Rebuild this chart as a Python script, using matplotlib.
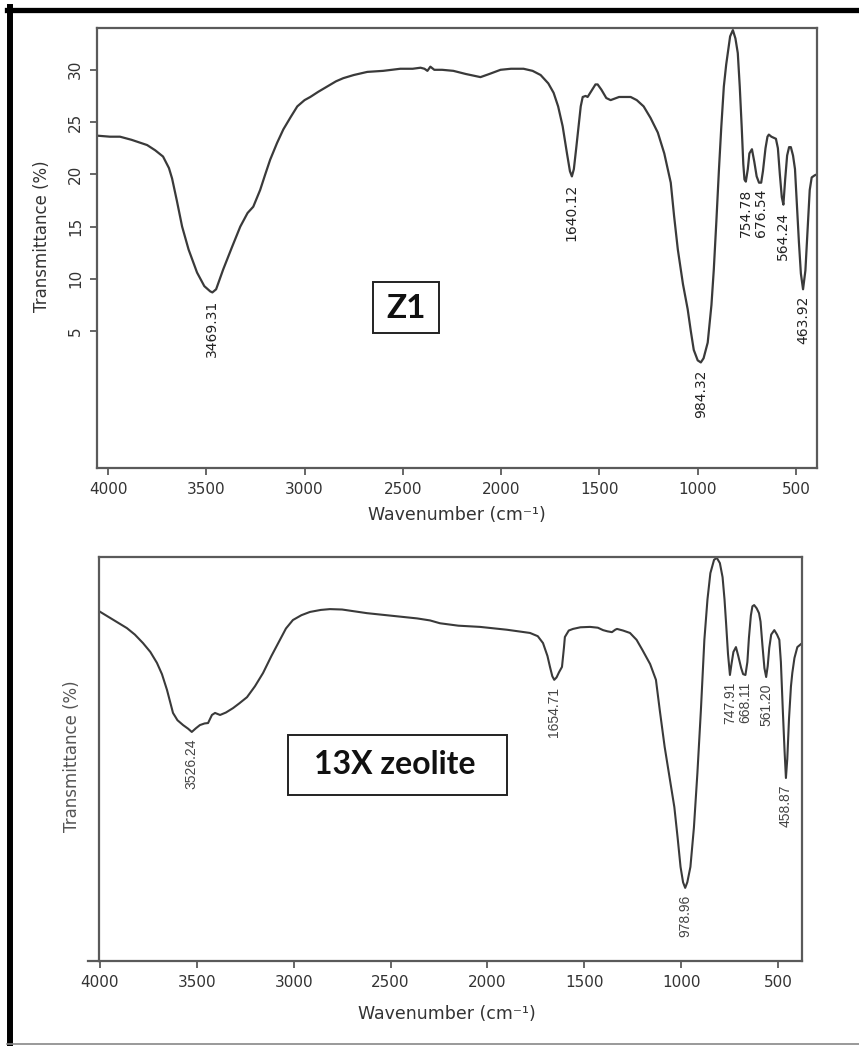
import matplotlib
matplotlib.use("Agg")
import matplotlib.pyplot as plt
import numpy as np
from matplotlib.patches import Rectangle
from matplotlib.lines import Line2D

# ---- data ----
z1_wn = [4056, 3990, 3939, 3880, 3801, 3760, 3720, 3690, 3674, 3650, 3623, 3590, 3547, 3510,
         3480, 3469, 3450, 3414, 3370, 3327, 3290, 3261, 3226, 3200, 3175, 3140, 3108, 3070,
         3037, 3000, 2971, 2930, 2885, 2840, 2803, 2750, 2681, 2600, 2513, 2450, 2410, 2390,
         2375, 2360, 2340, 2300, 2243, 2180, 2105, 2060, 2003, 1950, 1886, 1840, 1799, 1760,
         1733, 1710, 1687, 1665, 1650, 1640, 1630, 1618, 1606, 1595, 1585, 1570, 1560, 1540,
         1520, 1509, 1490, 1465, 1443, 1400, 1341, 1310, 1275, 1240, 1203, 1170, 1137, 1120,
         1101, 1075, 1051, 1035, 1020, 1000, 984, 970, 949, 930, 918, 905, 892, 880, 867, 855,
         847, 835, 821, 808, 796, 786, 776, 768, 762, 755, 745, 737, 724, 712, 700, 688, 677,
         668, 655, 645, 638, 625, 602, 592, 582, 572, 564, 555, 545, 535, 526, 515, 505, 495,
         485, 475, 464, 452, 440, 430, 420, 405, 393]
z1_t = [23.7, 23.6, 23.6, 23.3, 22.8, 22.3, 21.7, 20.6, 19.6, 17.5, 15.0, 12.8, 10.6, 9.3,
        8.8, 8.7, 9.0, 10.9, 13.0, 15.0, 16.3, 16.9, 18.5, 20.0, 21.4, 23.0, 24.3, 25.5,
        26.5, 27.1, 27.4, 27.9, 28.4, 28.9, 29.2, 29.5, 29.8, 29.9, 30.1, 30.1, 30.2, 30.1,
        29.9, 30.3, 30.0, 30.0, 29.9, 29.6, 29.3, 29.6, 30.0, 30.1, 30.1, 29.9, 29.5, 28.7,
        27.8, 26.5, 24.6, 22.0, 20.3, 19.8, 20.5, 22.5, 24.6, 26.5, 27.4, 27.5, 27.4, 28.0,
        28.6, 28.6, 28.1, 27.3, 27.1, 27.4, 27.4, 27.1, 26.5, 25.4, 24.0, 22.0, 19.2, 16.0,
        12.8, 9.5, 7.1, 5.0, 3.2, 2.2, 2.0, 2.4, 3.9, 7.5, 10.9, 15.5, 20.4, 24.5, 28.4, 30.5,
        31.6, 33.2, 33.8, 33.0, 31.6, 28.4, 24.5, 21.0, 19.5, 19.3, 20.5, 22.0, 22.4, 21.2,
        19.8, 19.2, 19.2, 20.3, 22.5, 23.6, 23.8, 23.6, 23.4, 22.5, 20.0, 17.8, 17.1, 19.5,
        21.8, 22.6, 22.6, 21.8, 20.5, 17.0, 13.5, 10.5, 9.0, 10.8, 15.0, 18.5, 19.7, 19.9,
        20.0]
z1_peaks = [3469.31, 1640.12, 984.32, 754.78, 676.54, 564.24, 463.92]

x13_wn = [4005, 3930, 3861, 3820, 3778, 3740, 3706, 3680, 3654, 3623, 3600, 3571, 3545,
          3526, 3505, 3484, 3460, 3442, 3422, 3406, 3380, 3350, 3313, 3280, 3241, 3200,
          3158, 3115, 3071, 3040, 3004, 2960, 2916, 2860, 2813, 2750, 2622, 2500, 2363,
          2296, 2245, 2150, 2038, 1900, 1780, 1740, 1713, 1690, 1677, 1665, 1655, 1643,
          1630, 1615, 1605, 1600, 1580, 1558, 1520, 1470, 1430, 1403, 1380, 1357, 1340,
          1331, 1300, 1264, 1230, 1200, 1160, 1130, 1110, 1085, 1058, 1035, 1018, 1003,
          990, 979, 968, 952, 934, 916, 898, 880, 864, 849, 830, 816, 800, 786, 776, 768,
          758, 748, 740, 730, 717, 705, 690, 680, 668, 658, 650, 640, 632, 623, 610, 598,
          590, 580, 570, 561, 553, 545, 535, 519, 505, 493, 485, 475, 466, 459, 452, 443,
          433, 426, 415, 400, 380]
x13_t = [86.6, 84.4, 82.4, 80.8, 78.7, 76.5, 73.8, 71.0, 67.1, 61.4, 59.6, 58.4, 57.5,
         56.7, 57.6, 58.4, 58.8, 58.9, 60.9, 61.4, 60.9, 61.5, 62.6, 63.8, 65.3, 68.0,
         71.3, 75.5, 79.5, 82.3, 84.4, 85.6, 86.4, 86.9, 87.1, 87.0, 86.1, 85.5, 84.8,
         84.3, 83.6, 83.0, 82.7, 82.0, 81.2, 80.4, 78.7, 75.5, 72.8, 70.5, 69.6, 70.2,
         71.5, 72.8, 77.5, 80.2, 81.8, 82.2, 82.6, 82.7, 82.5, 81.9, 81.6, 81.4, 82.0,
         82.2, 81.8, 81.2, 79.5, 77.0, 73.5, 69.6, 62.0, 53.0, 45.0, 38.1, 30.5, 23.3,
         19.5, 18.1, 19.5, 23.3, 33.0, 46.5, 62.0, 79.5, 89.5, 96.0, 99.3, 99.8, 98.5,
         95.0, 89.5, 83.7, 76.0, 70.8, 73.5, 76.5, 77.7, 75.5, 72.5, 71.0, 70.8, 74.0,
         80.0, 85.5, 87.8, 88.1, 87.3, 86.1, 84.0, 78.0, 72.5, 70.3, 73.0, 77.5, 80.8,
         81.9, 80.8, 79.5, 74.0, 62.0, 52.0, 45.3, 50.0, 60.0, 68.0, 71.3, 75.0, 77.7,
         78.5]
x13_peaks = [3526.24, 1654.71, 978.96, 747.91, 668.11, 561.20, 458.87]

xticks = [4000, 3500, 3000, 2500, 2000, 1500, 1000, 500]
z1_yticks = [5, 10, 15, 20, 25, 30]

W, H = 859, 1046
def fx(px):
    return px / W
def fy(py):
    return 1 - py / H

fig = plt.figure(figsize=(W / 100, H / 100), dpi=100)
spine_c = "#5a5a5a"
line_c = "#3a3a3a"

# ---------------- top panel : Z1 ----------------
ax1 = fig.add_axes([fx(97), fy(468), fx(817) - fx(97), fy(28) - fy(468)])
ax1.plot(z1_wn, z1_t, color=line_c, lw=1.6)
ax1.set_xlim(4056, 393)
ax1.set_ylim(-8.1, 34.0)
ax1.set_xticks(xticks)
ax1.set_yticks(z1_yticks)
ax1.tick_params(axis="both", direction="out", length=5, width=1.3, color=spine_c,
                labelsize=11, labelcolor="#333333", pad=5)
ax1.tick_params(axis="y", labelrotation=90)
for lab in ax1.get_yticklabels():
    lab.set_va("center")
for s in ax1.spines.values():
    s.set_color(spine_c)
    s.set_linewidth(1.6)

for pk in z1_peaks:
    ymin = np.interp(pk, z1_wn[::-1], z1_t[::-1])
    ax1.annotate("%.2f" % pk, xy=(pk, ymin), xytext=(0, -5), textcoords="offset points",
                 rotation=90, ha="center", va="top", fontsize=10, color="#222222")

fig.text(fx(42), fy(236), "Transmittance (%)", rotation=90, ha="center", va="center",
         fontsize=12, color="#333333")
fig.text(fx(457), fy(515), "Wavenumber (cm\u207b\u00b9)", ha="center", va="center",
         fontsize=12.5, color="#333333")

fig.add_artist(Rectangle((fx(373), fy(333)), fx(439) - fx(373), fy(282) - fy(333),
                         transform=fig.transFigure, fill=False, ec="#222222", lw=1.4))
fig.text(fx(406), fy(308), "Z1", ha="center", va="center", fontsize=24,
         fontweight="bold", family=["Lato", "DejaVu Sans"], color="#111111")

# ---------------- bottom panel : 13X zeolite ----------------
ax2 = fig.add_axes([fx(99), fy(961), fx(802) - fx(99), fy(557) - fy(961)])
ax2.plot(x13_wn, x13_t, color=line_c, lw=1.5)
ax2.set_xlim(4005, 376)
ax2.set_ylim(0, 100)
ax2.set_xticks(xticks)
ax2.set_yticks([])
ax2.tick_params(axis="x", direction="out", length=5, width=1.3, color=spine_c,
                labelsize=11, labelcolor="#333333", pad=5)
for s in ax2.spines.values():
    s.set_color(spine_c)
    s.set_linewidth(1.6)
ax2.plot([-0.015, 0], [0, 0], transform=ax2.transAxes, clip_on=False,
         color=spine_c, lw=1.6)

for pk in x13_peaks:
    ymin = np.interp(pk, x13_wn[::-1], x13_t[::-1])
    ax2.annotate("%.2f" % pk, xy=(pk, ymin), xytext=(0, -5), textcoords="offset points",
                 rotation=90, ha="center", va="top", fontsize=10,
                 family=["Liberation Sans Narrow", "Liberation Sans", "DejaVu Sans"],
                 color="#444444")

fig.text(fx(72), fy(756), "Transmittance (%)", rotation=90, ha="center", va="center",
         fontsize=12, color="#555555")
fig.text(fx(447), fy(1014), "Wavenumber (cm\u207b\u00b9)", ha="center", va="center",
         fontsize=12.5, color="#333333")

fig.add_artist(Rectangle((fx(288), fy(795)), fx(507) - fx(288), fy(735) - fy(795),
                         transform=fig.transFigure, fill=False, ec="#222222", lw=1.4))
fig.text(fx(395), fy(764), "13X zeolite", ha="center", va="center", fontsize=23,
         fontweight="bold", family=["Lato", "DejaVu Sans"], color="#111111")

# ---------------- outer frame ----------------
fig.add_artist(Line2D([fx(7), 1], [fy(9.5), fy(9.5)], color="black", lw=3.8))
fig.add_artist(Line2D([fx(10), fx(10)], [fy(7), 0], color="black", lw=4.3))
fig.add_artist(Line2D([fx(7), 1], [fy(1043.5), fy(1043.5)], color="#888888", lw=1.2))

fig.savefig("out.png", dpi=100)
